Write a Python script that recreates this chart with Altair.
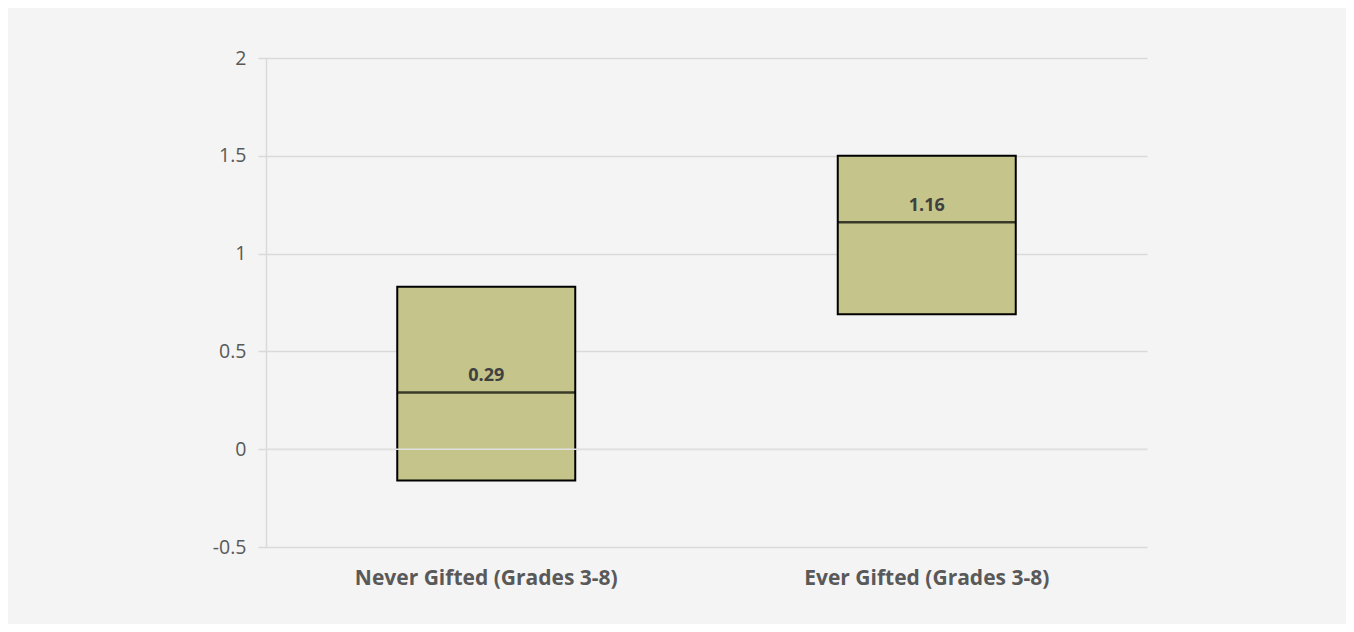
import altair as alt
import pandas as pd

categories = ["Never Gifted (Grades 3-8)", "Ever Gifted (Grades 3-8)"]
low_values = [-0.16, 0.69]
high_values = [0.83, 1.50]
median_values = [0.29, 1.16]
median_labels = ["0.29", "1.16"]
y_ticks = [-0.5, 0, 0.5, 1, 1.5, 2]

df = pd.DataFrame({
    "cat": categories,
    "low": low_values,
    "high": high_values,
    "med": median_values,
    "lab": median_labels,
})

FONT = "Open Sans"
GRID = "#d9d9d9"
TXT = "#595959"

x = alt.X("cat:N", sort=categories, title=None,
          scale=alt.Scale(paddingInner=0, paddingOuter=0),
          axis=alt.Axis(labelAngle=0, domain=False, ticks=False, grid=False,
                        labelFont=FONT, labelFontSize=21, labelFontWeight="bold",
                        labelColor=TXT, labelPadding=20, labelLimit=0))
y_scale = alt.Scale(domain=[-0.5, 2], nice=False, zero=False)

base = alt.Chart(df)

boxes = base.mark_bar(size=178, color="#c4c48b", stroke="black", strokeWidth=2).encode(
    x=x,
    y=alt.Y("low:Q", scale=y_scale, title=None,
            axis=alt.Axis(values=y_ticks, labelExpr="toString(datum.value)",
                          grid=True, gridColor=GRID, gridWidth=1.5,
                          domain=True, domainColor=GRID, domainWidth=1.5,
                          ticks=True, tickColor=GRID, tickSize=8, tickWidth=1.5,
                          labelFont=FONT, labelFontSize=19.5, labelColor=TXT,
                          labelPadding=12)),
    y2="high:Q",
)

medians = base.mark_tick(size=178, thickness=2.5, color="black").encode(
    x=alt.X("cat:N", sort=categories),
    y=alt.Y("med:Q", scale=y_scale),
)

zero_rule = alt.Chart(pd.DataFrame({"z": [0]})).mark_rule(color="#e0e0e0", strokeWidth=1.5).encode(
    y=alt.Y("z:Q", scale=y_scale),
)

labels = base.mark_text(font=FONT, fontSize=18, fontWeight="bold", color="#404040",
                        baseline="alphabetic", dy=-11).encode(
    x=alt.X("cat:N", sort=categories),
    y=alt.Y("med:Q", scale=y_scale),
    text="lab:N",
)

chart = alt.layer(boxes, medians, zero_rule, labels).properties(
    width=881, height=489,
    background="#f4f4f4",
    padding={"left": 258, "top": 50, "right": 199, "bottom": 77},
    autosize=alt.AutoSizeParams(type="none"),
).configure_view(stroke=None)

chart.save("out.html", embed_options={"renderer": "svg", "actions": False})
